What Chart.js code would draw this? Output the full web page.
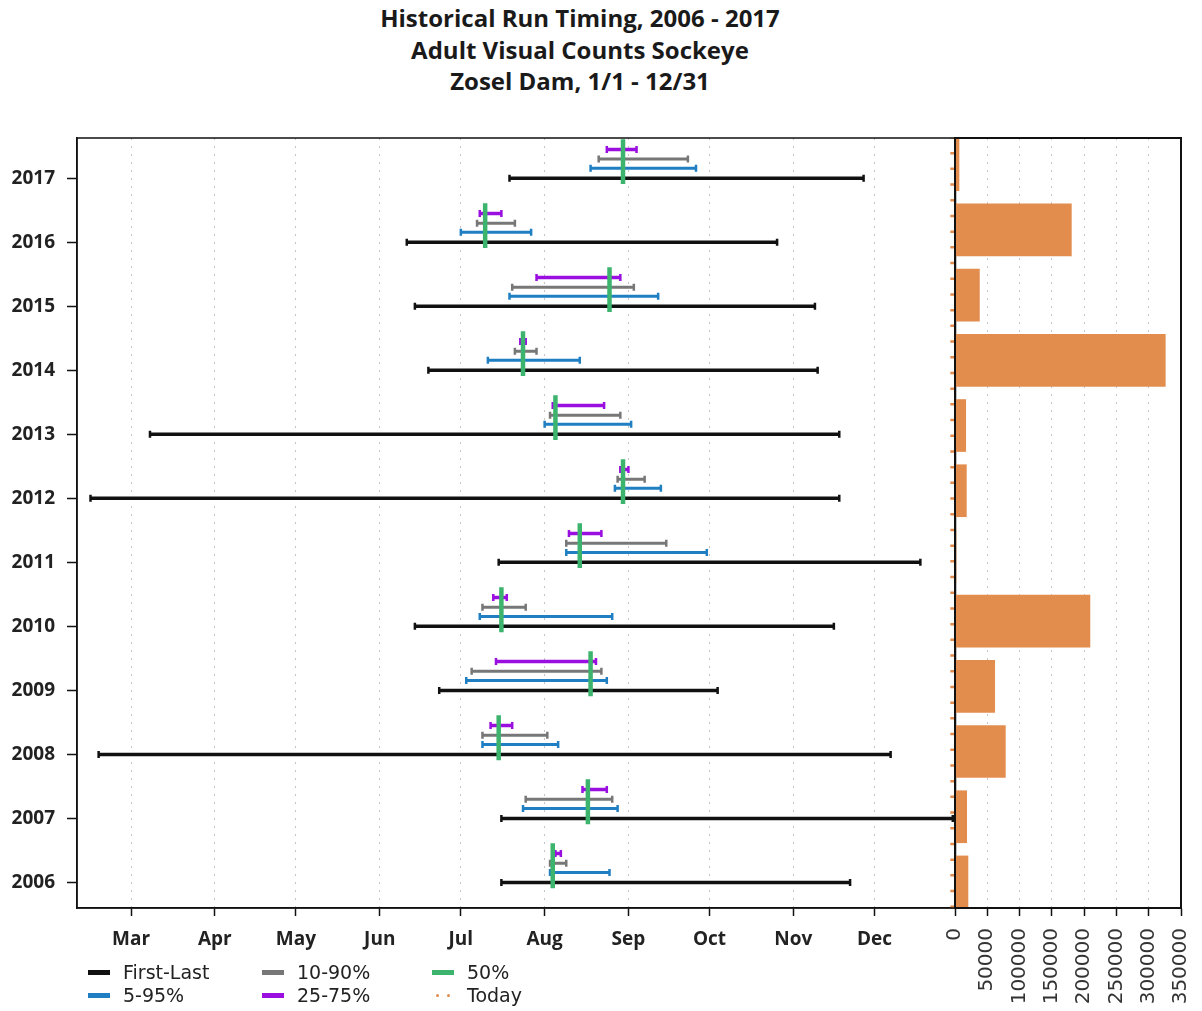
<!DOCTYPE html>
<html>
<head>
<meta charset="utf-8">
<script src="https://cdn.jsdelivr.net/npm/chart.js@4.4.1/dist/chart.umd.min.js"></script>
<style>
  body { margin: 0; background: #fff; width: 1202px; height: 1011px; position: relative; overflow: hidden; }
  #title { position: absolute; left: 0; top: 2px; width: 1160px; text-align: center;
           font: bold 24px/31.5px 'Open Sans', sans-serif; color: #1a1a1a; }
  #timing { position: absolute; left: 0; top: 0; }
  #counts { position: absolute; left: 940px; top: 0; }
  #legend { position: absolute; left: 88px; top: 961px; display: grid;
            grid-template-columns: 174px 170px 170px; font: 19px/23px 'DejaVu Sans', sans-serif; color: #222; }
  #legend div { display: flex; align-items: center; white-space: nowrap; }
  #legend .sw { width: 22px; height: 5px; margin-right: 13px; }
  #legend .dots { width: 22px; margin-right: 13px; display: flex; justify-content: space-around; }
  #legend .dots i { width: 3.5px; height: 3.5px; border-radius: 50%; display: block; }
</style>
</head>
<body>
<div id="title">Historical Run Timing, 2006 - 2017<br>Adult Visual Counts Sockeye<br>Zosel Dam, 1/1 - 12/31</div>
<canvas id="timing" width="962" height="1011"></canvas>
<canvas id="counts" width="277" height="1011"></canvas>
<div id="legend"></div>
<script>
// day-of-year values
const years = [2006, 2007, 2008, 2009, 2010, 2011, 2012, 2013, 2014, 2015, 2016, 2017];
const firstDay = [197, 197, 48, 174, 165, 196, 45, 67, 170, 165, 162, 200];
const lastDay  = [326, 364, 341, 277, 320, 352, 322, 322, 314, 313, 299, 331];
const p5  = [215, 205, 190, 184, 189, 221, 239, 213, 192, 200, 182, 230];
const p95 = [237, 240, 218, 236, 238, 273, 256, 245, 226, 255, 208, 269];
const p10 = [215, 206, 190, 186, 190, 221, 240, 215, 202, 201, 188, 233];
const p90 = [221, 238, 214, 234, 206, 258, 250, 241, 210, 246, 202, 266];
const p25 = [217, 227, 193, 195, 194, 222, 241, 216, 204, 210, 189, 236];
const p75 = [219, 236, 201, 232, 199, 234, 244, 235, 206, 241, 197, 247];
const p50 = [216, 229, 196, 230, 197, 226, 242, 217, 205, 237, 191, 242];
const counts = [20100, 18100, 78000, 61500, 209000, 1500, 17600, 16600, 325700, 37800, 180200, 6200];
const today = 364;

const monthStarts = [60, 91, 121, 152, 182, 213, 244, 274, 305, 335];
const monthLabels = ['Mar', 'Apr', 'May', 'Jun', 'Jul', 'Aug', 'Sep', 'Oct', 'Nov', 'Dec'];
const countTicks = [0, 50000, 100000, 150000, 200000, 250000, 300000, 350000];

const Y_MIN = 2005.6, Y_MAX = 2017.63;

const C = {
  black: '#111111', blue: '#1f7fc2', gray: '#777777', purple: '#9a0ee0',
  green: '#3cb46e', orange: '#e28c4e', grid: '#c4c4c4'
};

const frame = {
  id: 'frame',
  afterDraw(chart) {
    const { ctx, chartArea: a } = chart;
    ctx.save();
    ctx.strokeStyle = '#111';
    ctx.lineWidth = chart.options.frameWidth || 1.5;
    ctx.strokeRect(a.left, a.top, a.right - a.left, a.bottom - a.top);
    ctx.restore();
  }
};

function rangeSet(label, color, lo, hi, off, width, order) {
  const data = [];
  years.forEach((yr, i) => {
    data.push({ x: lo[i], y: yr + off }, { x: hi[i], y: yr + off }, { x: hi[i], y: null });
  });
  return {
    label, data, order, borderColor: color, backgroundColor: color, borderWidth: width,
    pointStyle: 'line', pointRotation: 90, pointRadius: 3.5, pointBorderWidth: 2.5,
    pointBorderColor: color, spanGaps: false
  };
}

const medianData = [];
years.forEach((yr, i) => {
  medianData.push({ x: p50[i], y: yr - 0.09 }, { x: p50[i], y: yr + 0.61 }, { x: p50[i], y: null });
});

const boldTick = { family: "'Open Sans', sans-serif", size: 19, weight: 'bold' };

const timing = new Chart(document.getElementById('timing'), {
  type: 'line',
  data: {
    datasets: [
      rangeSet('First-Last', C.black, firstDay, lastDay, 0, 3.5, 5),
      rangeSet('5-95%', C.blue, p5, p95, 0.156, 3, 4),
      rangeSet('10-90%', C.gray, p10, p90, 0.30, 3, 3),
      rangeSet('25-75%', C.purple, p25, p75, 0.45, 3.5, 2),
      { label: '50%', data: medianData, order: 0, borderColor: C.green, backgroundColor: C.green,
        borderWidth: 4.5, pointRadius: 0, spanGaps: false },
      { label: 'Today', data: [{ x: today, y: Y_MIN }, { x: today, y: Y_MAX }], order: 1,
        borderColor: C.orange, backgroundColor: C.orange, borderWidth: 5, borderDash: [2.5, 13.2], pointRadius: 0 }
    ]
  },
  options: {
    responsive: false,
    animation: false,
    layout: { padding: { top: 138, bottom: 57, left: 0, right: 2 } },
    plugins: { legend: { display: false }, tooltip: { enabled: false } },
    scales: {
      x: {
        type: 'linear', min: 40, max: 365,
        afterBuildTicks: s => { s.ticks = monthStarts.map(v => ({ value: v })); },
        afterFit: s => { s.height = 46; },
        ticks: { autoSkip: false, maxRotation: 0, padding: 12, color: '#222', font: boldTick,
                 callback: v => monthLabels[monthStarts.indexOf(v)] },
        grid: { color: C.grid, tickColor: '#111', tickLength: 8, tickWidth: 1.5 },
        border: { dash: [2, 6], color: '#111', width: 1.5 }
      },
      y: {
        type: 'linear', min: Y_MIN, max: Y_MAX,
        afterBuildTicks: s => { s.ticks = years.map(v => ({ value: v })); },
        afterFit: s => { s.width = 77; },
        ticks: { autoSkip: false, padding: 12, color: '#222', font: boldTick, callback: v => String(v) },
        grid: { drawOnChartArea: false, tickColor: '#111', tickLength: 10, tickWidth: 1.5 },
        border: { color: '#111', width: 1.5 }
      }
    }
  },
  plugins: [frame]
});

new Chart(document.getElementById('counts'), {
  type: 'bar',
  data: {
    datasets: [{
      label: 'Count',
      data: years.map((yr, i) => ({ x: counts[i], y: yr })),
      backgroundColor: C.orange, borderWidth: 0, barThickness: 52
    }]
  },
  options: {
    indexAxis: 'y',
    responsive: false,
    animation: false,
    frameWidth: 2,
    layout: { padding: { top: 138, bottom: 5, left: 15, right: 21 } },
    plugins: { legend: { display: false }, tooltip: { enabled: false } },
    scales: {
      y: { type: 'linear', display: false, offset: false, grid: { offset: false }, min: 2005.6, max: 2017.41 },
      x: {
        type: 'linear', min: 0, max: 350000,
        afterBuildTicks: s => { s.ticks = countTicks.map(v => ({ value: v })); },
        afterFit: s => { s.height = 98; },
        ticks: { autoSkip: false, minRotation: 90, maxRotation: 90, padding: 12, color: '#333',
                 font: { family: "'DejaVu Sans', sans-serif", size: 20 }, callback: v => String(v) },
        grid: { color: C.grid, tickColor: '#111', tickLength: 8, tickWidth: 1.5 },
        border: { dash: [2, 6], color: '#111', width: 1.5 }
      }
    }
  },
  plugins: [frame]
});

// legend, built from the timing datasets
const legendOrder = ['First-Last', '10-90%', '50%', '5-95%', '25-75%', 'Today'];
const legend = document.getElementById('legend');
legendOrder.forEach(name => {
  const ds = timing.data.datasets.find(d => d.label === name);
  const item = document.createElement('div');
  const sw = name === 'Today'
    ? `<span class="dots"><i style="background:${ds.borderColor}"></i><i style="background:${ds.borderColor}"></i></span>`
    : `<span class="sw" style="background:${ds.borderColor}"></span>`;
  item.innerHTML = sw + `<span>${name}</span>`;
  legend.appendChild(item);
});
</script>
</body>
</html>
